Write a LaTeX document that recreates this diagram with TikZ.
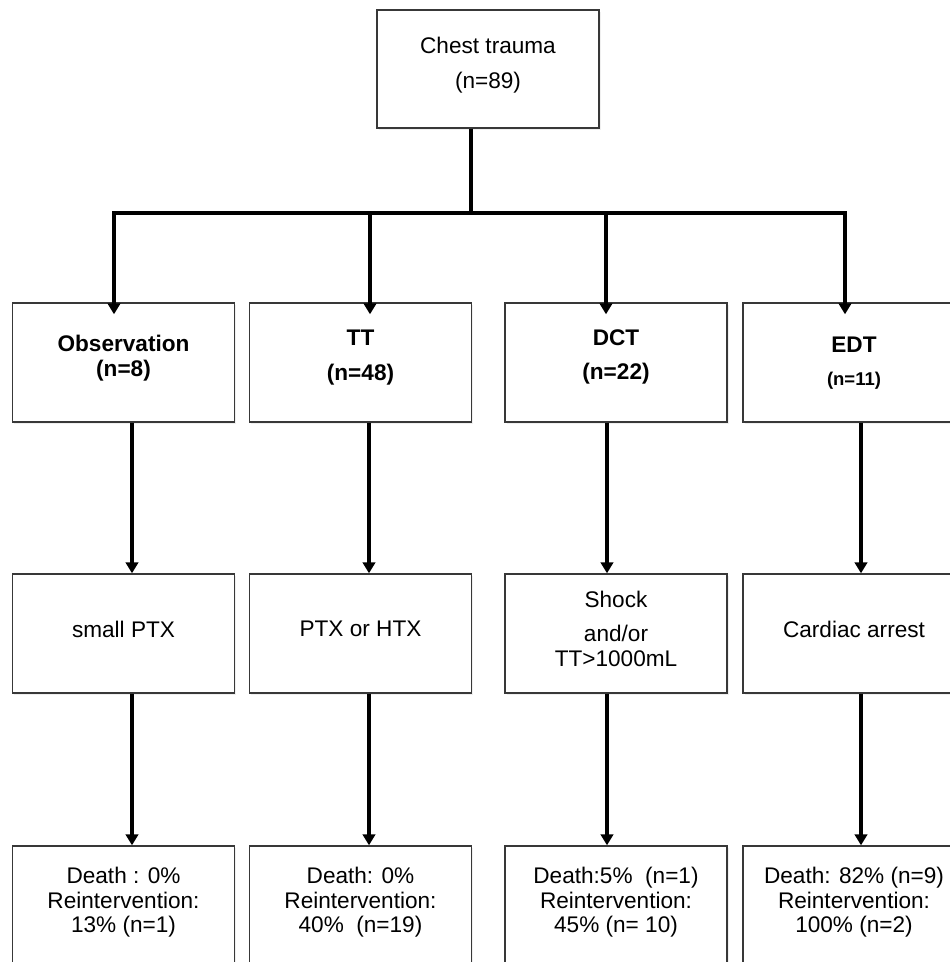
\documentclass[tikz,border=0pt]{standalone}
\usepackage{fontspec}
\setmainfont{Liberation Sans}
\usetikzlibrary{arrows.meta,shadows}
\definecolor{boxgray}{HTML}{383838}
\begin{document}
\begin{tikzpicture}[x=1pt,y=-1pt,
  box/.style={draw=boxgray, line width=1.4pt, fill=white, minimum width=222pt, minimum height=119pt, inner sep=0pt,
    drop shadow={shadow xshift=1.5pt, shadow yshift=-2pt, opacity=0.12}},
  txt/.style={font=\fontsize{22.6}{24.5}\selectfont, align=center, inner sep=0pt, anchor=north},
  btxt/.style={txt, font=\fontsize{22.6}{24.5}\selectfont\bfseries},
  link/.style={line width=3.8pt, draw=black},
  arr/.style={link, -{Triangle[length=11pt,width=12.5pt]}}]
\useasboundingbox (0,0) rectangle (950,962);
\clip (0,0) rectangle (950,962);
\fill[white] (0,0) rectangle (950,962);

% boxes
\node[box, minimum height=118pt] (top) at (488,69) {};
\node[box] (obs) at (123.5,362.5) {};
\node[box] (tt)  at (360.5,362.5) {};
\node[box] (dct) at (616,362.5) {};
\node[box] (edt) at (854,362.5) {};
\node[box] (sptx) at (123.5,633.5) {};
\node[box] (phtx) at (360.5,633.5) {};
\node[box] (shock) at (616,633.5) {};
\node[box] (card) at (854,633.5) {};
\node[box] (res1) at (123.5,905.5) {};
\node[box] (res2) at (360.5,905.5) {};
\node[box] (res3) at (616,905.5) {};
\node[box] (res4) at (854,905.5) {};

% texts
\node[txt] (topT) at (488,37) {Chest trauma\\[10.5pt](n=89)};
\node[btxt] (obsT) at (123.5,335) {Observation\\(n=8)};
\node[btxt] (ttT) at (360.5,330) {TT\\[10pt](n=48)};
\node[btxt] (dctT) at (616,329.5) {DCT\\[10pt](n=22)};
\node[btxt] (edtT) at (854,336.5) {EDT\\[9pt]{\fontsize{18.5}{20}\selectfont\bfseries (n=11)}};
\node[txt] (sptxT) at (123.5,621) {small PTX};
\node[txt] (phtxT) at (360.5,621) {PTX or HTX};
\node[txt] (shockT) at (616,590.5) {Shock\\[10pt]and/or\\TT>1000mL};
\node[txt] (cardT) at (854,620.5) {Cardiac arrest};
\node[txt] (res1T) at (123.5,867) {Death : 0\%\\Reintervention:\\13\% (n=1)};
\node[txt] (res2T) at (360.5,867) {Death: 0\%\\Reintervention:\\40\% \ (n=19)};
\node[txt] (res3T) at (616,867) {Death:5\% \ (n=1)\\Reintervention:\\45\% (n= 10)};
\node[txt] (res4T) at (854,867) {Death: 82\% (n=9)\\Reintervention:\\100\% (n=2)};

% connector coordinates
\coordinate (s0) at (471,0);
\coordinate (bar) at (0,213);
\coordinate (c1) at (114,0);
\coordinate (c2) at (370,0);
\coordinate (c3) at (606,0);
\coordinate (c4) at (845,0);
\coordinate (d1) at (132,0);
\coordinate (d2) at (369,0);
\coordinate (d3) at (607,0);
\coordinate (d4) at (861,0);

% top tree
\draw[arr] (top.south -| s0) |- (c1 |- bar) -- ([yshift=-12pt]obs.north -| c1);
\draw[arr] (top.south -| s0) |- (c4 |- bar) -- ([yshift=-12pt]edt.north -| c4);
\draw[arr] (c2 |- bar) -- ([yshift=-12pt]tt.north -| c2);
\draw[arr] (c3 |- bar) -- ([yshift=-12pt]dct.north -| c3);

% row 1 -> row 2
\draw[arr] (obs.south -| d1) -- (sptx.north -| d1);
\draw[arr] (tt.south -| d2) -- (phtx.north -| d2);
\draw[arr] (dct.south -| d3) -- (shock.north -| d3);
\draw[arr] (edt.south -| d4) -- (card.north -| d4);

% row 2 -> row 3
\draw[arr] (sptx.south -| d1) -- (res1.north -| d1);
\draw[arr] (phtx.south -| d2) -- (res2.north -| d2);
\draw[arr] (shock.south -| d3) -- (res3.north -| d3);
\draw[arr] (card.south -| d4) -- (res4.north -| d4);
\end{tikzpicture}
\end{document}
